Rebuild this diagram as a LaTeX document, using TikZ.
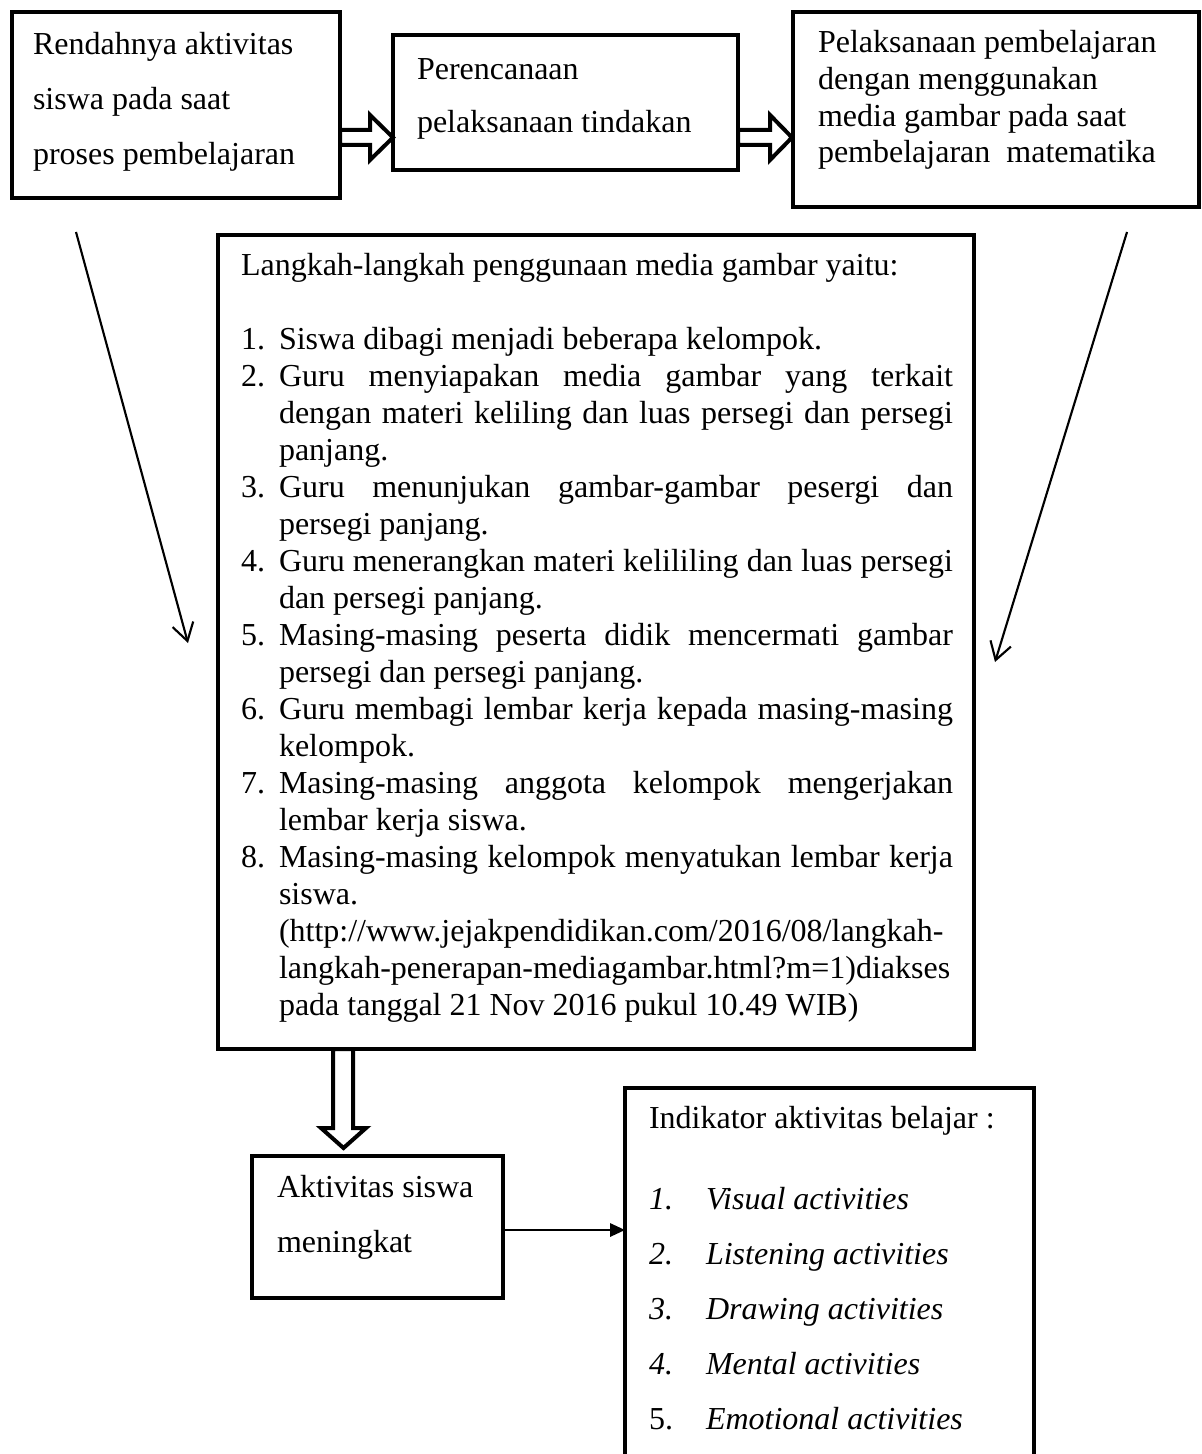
\documentclass[tikz,border=0pt]{standalone}
\usepackage{fontspec}
\setmainfont{Liberation Serif}
\usetikzlibrary{arrows.meta,calc}
\newcommand\jline[1]{\makebox[252.75pt][s]{#1}}
\begin{document}
\begin{tikzpicture}[x=0.375pt,y=-0.375pt,
  box/.style={draw,line width=1.5pt,inner sep=0pt,outer sep=0pt},
  txt/.style={anchor=base west,inner sep=0pt,outer sep=0pt,font=\fontsize{12}{14}\selectfont},
  hollow/.style={draw,line width=1.5pt,fill=white,line join=miter},
  thinarrow/.style={line width=0.8pt,-{Straight Barb[length=6.5pt,width=8pt]}},
  link/.style={line width=0.75pt,-{Triangle[length=5.6pt,width=5pt]}}
]
\fill[white] (0,0) rectangle (1201,1454);
\useasboundingbox (0,0) rectangle (1201,1454);

% boxes
\node[box,minimum width={328*0.375pt},minimum height={186*0.375pt}] (b1) at (176,105) {};
\node[box,minimum width={345*0.375pt},minimum height={135*0.375pt}] (b2) at (565.5,102.5) {};
\node[box,minimum width={406*0.375pt},minimum height={195*0.375pt}] (b3) at (996,109.5) {};
\node[box,minimum width={756*0.375pt},minimum height={814*0.375pt}] (main) at (596,642) {};
\node[box,minimum width={251*0.375pt},minimum height={142*0.375pt}] (akt) at (377.5,1227) {};
\node[inner sep=0pt,outer sep=0pt,minimum width={409*0.375pt},minimum height={366*0.375pt}] (ind) at (829.5,1271) {};
\draw[line width=1.5pt] (ind.south west) -- (ind.north west) -- (ind.north east) -- (ind.south east);

% hollow arrows
\draw[hollow] (340,130) -- (370,130) -- (370,115) -- (393,137.5) -- (370,160) -- (370,145) -- (340,145) -- cycle;
\draw[hollow] (738,130) -- (770,130) -- (770,115) -- (792,137.5) -- (770,160) -- (770,145) -- (738,145) -- cycle;
\draw[hollow] (333,1049) -- (333,1128) -- (321,1128) -- (343.5,1148) -- (366,1128) -- (353,1128) -- (353,1049) -- cycle;
\draw[line width=1.5pt] (main.south west) -- (main.south east);

% thin arrows
\coordinate (s1) at (76,232);
\coordinate (e1) at (188,643);
\coordinate (s2) at (1127,232);
\coordinate (e2) at (995,662);
\draw[thinarrow] (s1) -- (e1);
\draw[thinarrow] (s2) -- (e2);
\draw[link] (akt.east |- 0,1230) -- (ind.west |- 0,1230);

% box 1 text
\node[txt] (t11) at (33,55) {Rendahnya aktivitas};
\node[txt] (t12) at (33,110) {siswa pada saat};
\node[txt] (t13) at (33,165) {proses pembelajaran};
% box 2 text
\node[txt] (t21) at (417,80) {Perencanaan};
\node[txt] (t22) at (417,133) {pelaksanaan tindakan};
% box 3 text
\node[txt] (t31) at (818,53) {Pelaksanaan pembelajaran};
\node[txt] (t32) at (818,90) {dengan menggunakan};
\node[txt] (t33) at (818,127) {media gambar pada saat};
\node[txt] (t34) at (818,163) {pembelajaran\ \ matematika};

% main box text
\node[txt] (m0) at (241,276) {Langkah-langkah penggunaan media gambar yaitu:};
\node[txt] (n1) at (241,349.9) {1.};
\node[txt] (m2) at (279,349.9) {Siswa dibagi menjadi beberapa kelompok.};
\node[txt] (n2) at (241,386.85) {2.};
\node[txt] (m3) at (279,386.85) {\jline{Guru menyiapakan media gambar yang terkait}};
\node[txt] (m4) at (279,423.8) {\jline{dengan materi keliling dan luas persegi dan persegi}};
\node[txt] (m5) at (279,460.75) {panjang.};
\node[txt] (n3) at (241,497.7) {3.};
\node[txt] (m6) at (279,497.7) {\jline{Guru menunjukan gambar-gambar pesergi dan}};
\node[txt] (m7) at (279,534.65) {persegi panjang.};
\node[txt] (n4) at (241,571.6) {4.};
\node[txt] (m8) at (279,571.6) {\jline{Guru menerangkan materi kelililing dan luas persegi}};
\node[txt] (m9) at (279,608.55) {dan persegi panjang.};
\node[txt] (n5) at (241,645.5) {5.};
\node[txt] (m10) at (279,645.5) {\jline{Masing-masing peserta didik mencermati gambar}};
\node[txt] (m11) at (279,682.45) {persegi dan persegi panjang.};
\node[txt] (n6) at (241,719.4) {6.};
\node[txt] (m12) at (279,719.4) {\jline{Guru membagi lembar kerja kepada masing-masing}};
\node[txt] (m13) at (279,756.35) {kelompok.};
\node[txt] (n7) at (241,793.3) {7.};
\node[txt] (m14) at (279,793.3) {\jline{Masing-masing anggota kelompok mengerjakan}};
\node[txt] (m15) at (279,830.25) {lembar kerja siswa.};
\node[txt] (n8) at (241,867.2) {8.};
\node[txt] (m16) at (279,867.2) {\jline{Masing-masing kelompok menyatukan lembar kerja}};
\node[txt] (m17) at (279,904.15) {siswa.};
\node[txt] (m18) at (279,941.1) {(http://www.jejakpendidikan.com/2016/08/langkah-};
\node[txt] (m19) at (279,978.05) {langkah-penerapan-mediagambar.html?m=1)diakses};
\node[txt] (m20) at (279,1015) {pada tanggal 21 Nov 2016 pukul 10.49 WIB)};

% aktivitas text
\node[txt] (a1) at (277,1197) {Aktivitas siswa};
\node[txt] (a2) at (277,1252) {meningkat};

% indikator text
\node[txt] (i0) at (649,1128) {Indikator aktivitas belajar :};
\node[txt] (in1) at (649,1209) {\itshape 1.};
\node[txt] (it1) at (706,1209) {\itshape Visual activities};
\node[txt] (in2) at (649,1264) {\itshape 2.};
\node[txt] (it2) at (706,1264) {\itshape Listening activities};
\node[txt] (in3) at (649,1319) {\itshape 3.};
\node[txt] (it3) at (706,1319) {\itshape Drawing activities};
\node[txt] (in4) at (649,1374) {\itshape 4.};
\node[txt] (it4) at (706,1374) {\itshape Mental activities};
\node[txt] (in5) at (649,1429) {5.};
\node[txt] (it5) at (706,1429) {\itshape Emotional activities};
\end{tikzpicture}
\end{document}
